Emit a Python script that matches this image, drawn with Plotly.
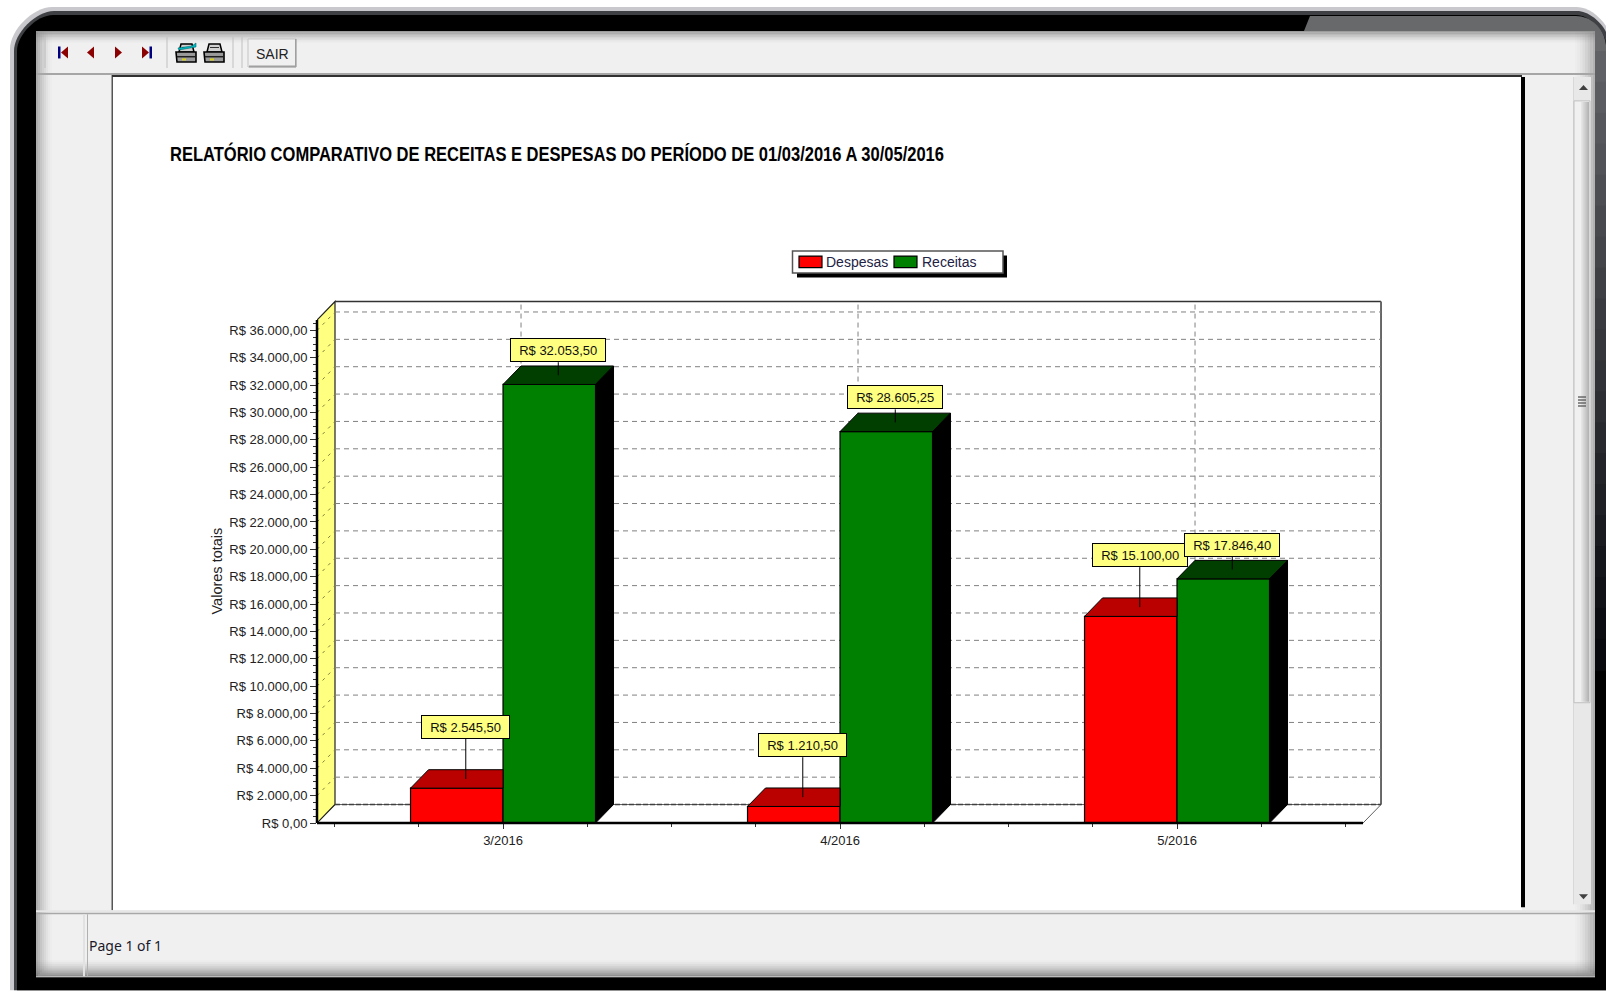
import plotly.graph_objects as go

# ---- data ----
categories = ["3/2016", "4/2016", "5/2016"]
series_names = ["Despesas", "Receitas"]
despesas = [2545.50, 1210.50, 15100.00]
receitas = [32053.50, 28605.25, 17846.40]
despesas_labels = ["R$ 2.545,50", "R$ 1.210,50", "R$ 15.100,00"]
receitas_labels = ["R$ 32.053,50", "R$ 28.605,25", "R$ 17.846,40"]
y_ticks = list(range(0, 36001, 2000))
y_labels = ["R$ 0,00", "R$ 2.000,00", "R$ 4.000,00", "R$ 6.000,00", "R$ 8.000,00", "R$ 10.000,00",
            "R$ 12.000,00", "R$ 14.000,00", "R$ 16.000,00", "R$ 18.000,00", "R$ 20.000,00",
            "R$ 22.000,00", "R$ 24.000,00", "R$ 26.000,00", "R$ 28.000,00", "R$ 30.000,00",
            "R$ 32.000,00", "R$ 34.000,00", "R$ 36.000,00"]
title_text = "RELATÓRIO COMPARATIVO DE RECEITAS E DESPESAS DO PERÍODO DE 01/03/2016 A 30/05/2016"

# ---- plot frame ----
W, H = 1606, 991
L, R, T, B = 317, 1382, 299.5, 823.5
PX_X = 337.0                     # pixels per category
PX_Y = (823 - 329.5) / 36000.0   # pixels per value unit
x_lo = -0.552
x_hi = x_lo + (R - L) / PX_X
y_hi = (B - T) / PX_Y
front_right = 2.552
axis_top = 36760
DX = 18 / PX_X
DY = 18.5 / PX_Y
BW = 92.5 / PX_X
FONT = "Liberation Sans"
idx = list(range(len(categories)))


def X(px):
    return (px - L) / (R - L)


def Y(py):
    return (B - py) / (B - T)


shapes = []


def rect(x0, y0, x1, y1, fill, line=None, lw=1, opacity=1.0):
    shapes.append(dict(type="rect", xref="paper", yref="paper", x0=X(x0), x1=X(x1), y0=Y(y0), y1=Y(y1),
                       fillcolor=fill, opacity=opacity, layer="below",
                       line=dict(width=lw if line else 0, color=line or fill)))


def poly(points, fill, line=None, lw=1):
    d = "M" + " L".join(f"{X(a):.5f},{Y(b):.5f}" for a, b in points) + " Z"
    shapes.append(dict(type="path", xref="paper", yref="paper", path=d, fillcolor=fill, layer="below",
                       line=dict(width=lw if line else 0, color=line or fill)))


def curved(cmds, fill):
    d = ""
    for p in cmds:
        vals = p[1:]
        coords = " ".join(f"{X(vals[i]):.5f},{Y(vals[i + 1]):.5f}" for i in range(0, len(vals), 2))
        d += p[0] + coords + " "
    shapes.append(dict(type="path", xref="paper", yref="paper", path=d + "Z", fillcolor=fill, layer="below",
                       line=dict(width=0)))


def round_frame(x0, y0, x1, y1, r, r2, fill):
    k, k2 = 0.45 * r, 0.45 * r2
    curved([("M", x0, y1), ("L", x0, y0 + r), ("C", x0, y0 + r - k, x0 + r - k, y0, x0 + r, y0),
            ("L", x1 - r2, y0), ("C", x1 - r2 + k2, y0, x1, y0 + r2 - k2, x1, y0 + r2), ("L", x1, y1)], fill)


# ---- window chrome ----
round_frame(10, 6, 1611, 991, 42, 34, "#c9c9cd")
round_frame(14, 10, 1609, 991, 40, 32, "#3f4043")
round_frame(17, 14, 1606, 991, 36, 30, "#000000")
# lighter band at the top right, running down the right edge
curved([("M", 1310, 15), ("L", 1576, 15), ("C", 1590, 15, 1604, 26, 1606, 44), ("L", 1606, 60),
        ("L", 1595, 60), ("L", 1595, 30), ("L", 1304, 30)], "#68696b")
for i in range(20):
    g = int(0x60 - 0x58 * i / 19)
    rect(1595, 50 + i * 31, 1606, 50 + (i + 1) * 31 + 1, f"rgb({g},{g + 1},{g + 4})")
rect(36, 30, 1595, 977, "#f0f0f0")
rect(36, 977, 1595, 978, "#ffffff")
for i in range(8):
    rect(36, 30 + i * 1.5, 1595, 30 + (i + 1) * 1.5, "#808080", opacity=0.75 * (1 - i / 8) ** 1.6)
    rect(36 + i * 2, 30, 36 + (i + 1) * 2, 977, "#909090", opacity=0.7 * (1 - i / 8) ** 1.6)
    rect(36, 977 - (i + 1) * 2, 1595, 977 - i * 2, "#707070", opacity=0.75 * (1 - i / 8) ** 1.6)
    rect(1595 - (i + 1) * 2.5, 30, 1595 - i * 2.5, 977, "#909090", opacity=0.65 * (1 - i / 8) ** 1.6)

# toolbar
rect(36, 72, 1595, 74, "#a6a6a6")
for sx in (45, 167, 233, 242):
    rect(sx - 0.5, 36, sx + 0.5, 67, "#c0c0c0")
NAVY, DARKRED = "#000080", "#8b0000"
rect(58, 45.5, 60.5, 57.5, NAVY)
poly([(68, 45.5), (68, 57.5), (61, 51.5)], DARKRED)
poly([(94, 45.5), (94, 57.5), (87, 51.5)], DARKRED)
poly([(115, 45.5), (115, 57.5), (122, 51.5)], DARKRED)
poly([(142, 45.5), (142, 57.5), (149, 51.5)], DARKRED)
rect(149.5, 45.5, 152, 57.5, NAVY)
for ox, tool in ((176, True), (204, False)):
    poly([(ox + 5, 43), (ox + 16, 43), (ox + 18, 51), (ox + 3, 51)], "#d0d0d0", "#000000", 1.5)
    rect(ox + 6, 46, ox + 15, 47, "#303030")
    poly([(ox, 51), (ox + 20, 51), (ox + 20, 61), (ox + 1, 61)], "#9a9a9a", "#000000", 1.6)
    rect(ox + 1, 55, ox + 19, 56.5, "#202020")
    rect(ox + 6, 57.5, ox + 10, 59.5, "#d8d020")
    if tool:
        poly([(ox + 2, 47), (ox + 16, 45), (ox + 20, 42), (ox + 20, 46), (ox + 3, 49)], "#00b8c0", "#006a70", 0.6)
rect(248, 38, 296, 66, "#f0f0f0", "#c4c4c4", 1)
rect(249, 64.5, 296, 66.5, "#a0a0a0")
rect(295, 38, 296.5, 66, "#a0a0a0")

# page area
rect(112.5, 75, 1522, 911, "#ffffff")
rect(111.5, 74, 113, 911, "#555555")
rect(112, 74, 1522, 76, "#303030")
rect(1521, 76, 1525, 908, "#000000")
rect(36, 911, 1595, 913, "#e6e6e6")
rect(36, 913.5, 1595, 915, "#a8a8a8")
rect(83, 915, 85, 977, "#e2e2e2")
rect(87, 915, 88, 977, "#b0b0b0")

# scrollbar
rect(1573, 76, 1591, 905, "#e8e8e8")
rect(1573, 76, 1574, 905, "#d8d8d8")
rect(1574, 100, 1590, 703, "#f0f0f0", "#c0c0c0", 1)
for i in range(8):
    rect(1581 + i, 101, 1582 + i, 702, "#a0a0a0", opacity=0.12 + i * 0.09)
for gy in (396, 399, 402, 405):
    rect(1578, gy, 1586, gy + 1.4, "#606060")
poly([(1579, 89), (1588, 89), (1583.5, 84)], "#404040")
poly([(1579, 895), (1588, 895), (1583.5, 900)], "#404040")

# legend box, shadow and swatches
rect(797, 255, 1007, 277, "#000000")
rect(792.5, 250.5, 1003, 272.5, "#ffffff", "#555555", 1.5)
rect(799, 255.5, 822, 267, "#ff0000", "#000000", 1.2)
rect(894, 255.5, 917, 267, "#008000", "#000000", 1.2)

# ---- 3-D box built on the data axes ----
def dshape(x0, y0, x1, y1, color, dash=None, width=1, layer="below", xref="x", yref="y"):
    shapes.append(dict(type="line", xref=xref, yref=yref, x0=x0, x1=x1, y0=y0, y1=y1, layer=layer,
                       line=dict(color=color, width=width, dash=dash)))


def dpoly(points, fill, line, lw=1):
    d = "M" + " L".join(f"{a:.4f},{b:.2f}" for a, b in points) + " Z"
    shapes.append(dict(type="path", xref="x", yref="y", path=d, fillcolor=fill, layer="below",
                       line=dict(color=line, width=lw)))


DASH = "5px,4px"
GRID = "#808080"
# floor and left wall
dpoly([(x_lo, 0), (x_lo + DX, DY), (front_right + DX, DY), (front_right, 0)], "#ffffff", "#606060", 1)
dpoly([(x_lo, 0), (x_lo + DX, DY), (x_lo + DX, axis_top + DY), (x_lo, axis_top)], "#ffff80", "#222222", 1.2)
# back-wall border
dshape(x_lo + DX, axis_top + DY, front_right + DX, axis_top + DY, "#333333", width=1.5)
dshape(front_right + DX, DY, front_right + DX, axis_top + DY, "#666666", width=2)
# grid
for v in y_ticks[1:]:
    dshape(x_lo + DX, v + DY, front_right + DX, v + DY, GRID, DASH)
    dshape(x_lo, v, x_lo + DX, v + DY, "#808040", "3px,5px")
dshape(x_lo + DX, DY, front_right + DX, DY, "#404040", "5px,2px", 1.4)
for i in idx:
    dshape(i + DX, DY, i + DX, axis_top + DY, GRID, DASH)

# axis lines
dshape(0, 0, 0, axis_top, "#000000", width=2.5, layer="above", xref="paper")
dshape(x_lo, 0, front_right, 0, "#000000", width=2.5, layer="above", yref="paper")

# ---- bars ----
fig = go.Figure()
fig.add_trace(go.Bar(name=series_names[0], x=idx, y=despesas, offset=-BW, width=BW, showlegend=False,
                     marker=dict(color="#ff0000", line=dict(color="#000000", width=1.2)), hoverinfo="y"))
fig.add_trace(go.Bar(name=series_names[1], x=idx, y=receitas, offset=0, width=BW, showlegend=False,
                     marker=dict(color="#008000", line=dict(color="#000000", width=1.2)), hoverinfo="y"))


def face(xs, ys, color):
    fig.add_trace(go.Scatter(x=xs, y=ys, mode="lines", fill="toself", fillcolor=color,
                             line=dict(color="#000000", width=1), showlegend=False, hoverinfo="skip"))


for i, d, r in zip(idx, despesas, receitas):
    # red top stops where the green front begins
    face([i - BW, i - BW + DX, i, i, i - BW], [d, d + DY, d + DY, d, d], "#bb0000")
    # green top and side
    face([i, i + DX, i + BW + DX, i + BW, i], [r, r + DY, r + DY, r, r], "#003f00")
    face([i + BW, i + BW + DX, i + BW + DX, i + BW, i + BW], [0, DY, r + DY, r, 0], "#000000")

annotations = []


def callout(x, y, text, length):
    annotations.append(dict(x=x, y=y, xref="x", yref="y", text=text, showarrow=True, arrowhead=0,
                            arrowwidth=1, arrowcolor="#000000", ax=0, ay=-length, axref="pixel", ayref="pixel",
                            xanchor="center", yanchor="bottom", standoff=0, bgcolor="#ffff80",
                            bordercolor="#000000", borderwidth=1, borderpad=4, width=len(text) * 7.2, height=14,
                            font=dict(family=FONT, size=13, color="#111111")))


for i, d, t in zip(idx, despesas, despesas_labels):
    callout(i - BW / 2 + DX / 2, d + DY / 2, t, 40)
for i, r, t in zip(idx, receitas, receitas_labels):
    callout(i + BW / 2 + DX / 2, r + DY / 2, t, 13)


def note(px, py, text, size=13, anchor="left", angle=0, family=FONT, color="#222222"):
    annotations.append(dict(x=X(px), y=Y(py), xref="paper", yref="paper", text=text, showarrow=False,
                            xanchor=anchor, yanchor="middle", textangle=angle,
                            font=dict(family=family, size=size, color=color)))


note(216.5, 571, "Valores totais", 14.5, "center", -90)
note(87, 946, "Page 1 of 1", 14, family="Noto Sans", color="#1a1a2a")
note(272, 53, "SAIR", 14, "center")
note(824, 261, series_names[0], 14, color="#222244")
note(920, 261, series_names[1], 14, color="#222244")

fig.update_layout(
    width=W, height=H, margin=dict(l=L, r=W - R, t=T, b=H - B, autoexpand=False),
    paper_bgcolor="#ffffff", plot_bgcolor="rgba(0,0,0,0)", barmode="overlay", shapes=shapes, annotations=annotations,
    showlegend=False,
    title=dict(text=title_text, xref="container", yref="container", x=170 / W, y=1 - 153.5 / H,
               xanchor="left", yanchor="middle",
               font=dict(family=FONT, size=20, color="#000000", weight="bold")),
    xaxis=dict(range=[x_lo, x_hi], tickvals=idx, ticktext=categories, ticks="outside", ticklen=5, tickcolor="#333333",
               showgrid=False, zeroline=False, showline=False, fixedrange=True,
               minor=dict(tickmode="array", tickvals=[-0.5, -0.25, 0.25, 0.5, 0.75, 1.25, 1.5, 1.75, 2.25, 2.5],
                          ticks="outside", ticklen=3, tickcolor="#333333", showgrid=False),
               tickfont=dict(family=FONT, size=13, color="#222222")),
    yaxis=dict(range=[0, y_hi], tickvals=y_ticks, ticktext=y_labels, ticks="outside", ticklen=6, tickcolor="#333333",
               showgrid=False, zeroline=False, showline=False, fixedrange=True,
               minor=dict(tickmode="array", tickvals=[v * 500 for v in range(0, 74) if v % 4], ticks="outside",
                          ticklen=3, tickcolor="#333333", showgrid=False),
               tickfont=dict(family=FONT, size=13, color="#222222")),
)

# the report title is a condensed bold face: squeeze it to its measured width
post = ("document.body.style.margin='0';document.body.style.overflow='hidden';"
        "var t=document.querySelector('.gtitle');"
        "if(t){t.setAttribute('textLength','774');t.setAttribute('lengthAdjust','spacingAndGlyphs');}")
fig.write_html("out.html", config=dict(displayModeBar=False), post_script=post)
